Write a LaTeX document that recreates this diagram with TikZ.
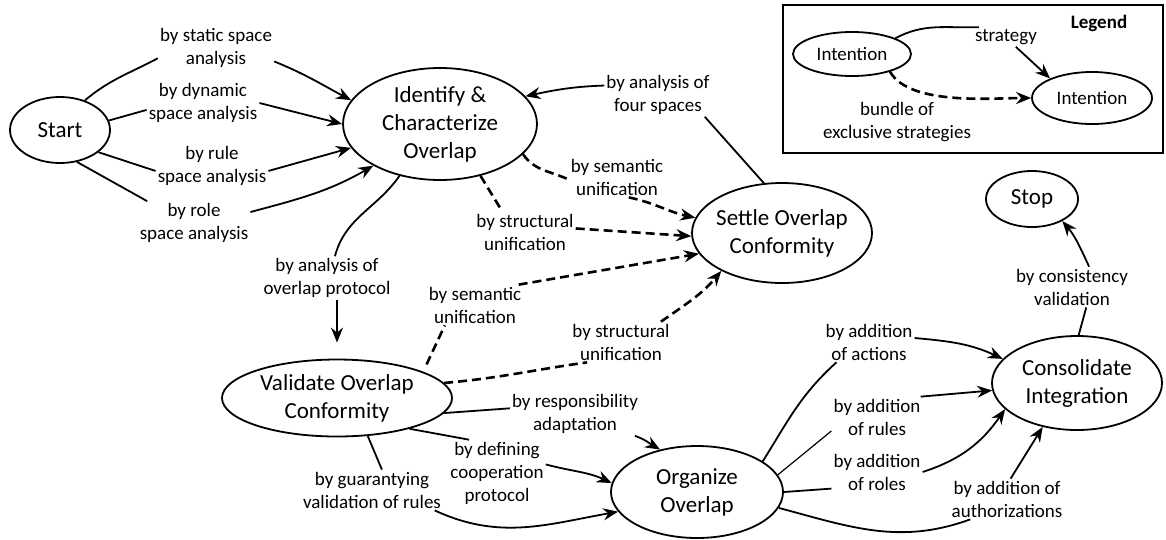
\documentclass[tikz,border=0pt]{standalone}
\usepackage{fontspec}
\setmainfont{Carlito}
\usetikzlibrary{shapes.geometric,arrows.meta}
\begin{document}
\begin{tikzpicture}[x=1pt,y=1pt,
  state/.style={ellipse,draw,line width=1.8pt,inner sep=0pt,align=center,font=\fontsize{23}{28}\selectfont},
  lstate/.style={ellipse,draw,line width=1.8pt,inner sep=0pt,align=center,font=\fontsize{19}{23}\selectfont},
  lbl/.style={align=center,inner sep=2pt,font=\fontsize{19}{23}\selectfont},
  conn/.style={line width=1.8pt},
  arr/.style={line width=1.8pt,-{Stealth[length=15pt,width=12pt,inset=5pt]}},
  dsh/.style={line width=2.6pt,dash pattern=on 9pt off 5pt},
  darr/.style={dsh,-{Stealth[length=15pt,width=12pt,inset=5pt]}}]
\useasboundingbox (0,0) rectangle (1166,-539);

% states
\node[state,minimum width=100pt,minimum height=66pt] (start) at (60,-130) {Start};
\node[state,minimum width=194pt,minimum height=112pt] (ic) at (440,-124) {Identify \&\\Characterize\\Overlap};
\node[state,inner xsep=-4pt,minimum width=180pt,minimum height=100pt] (soc) at (782,-233) {Settle Overlap\\Conformity};
\node[state,minimum width=230pt,minimum height=77pt] (voc) at (337,-398) {Validate Overlap\\Conformity};
\node[state,minimum width=172pt,minimum height=92pt] (oo) at (697,-492) {Organize\\Overlap};
\node[state,minimum width=170pt,minimum height=94pt] (ci) at (1077,-383) {Consolidate\\Integration};
\node[state,minimum width=92pt,minimum height=56pt] (stop) at (1032,-199) {Stop};

% legend
\node[draw,line width=2pt,minimum width=380pt,minimum height=148pt,inner sep=0pt] (legendbox) at (973,-79) {};
\node[font=\bfseries\fontsize{19}{23}\selectfont] (legendtitle) at (1099,-23) {Legend};
\node[lstate,minimum width=118pt,minimum height=44pt] (i1) at (852,-54) {Intention};
\node[lstate,minimum width=120pt,minimum height=52pt] (i2) at (1092,-98) {Intention};
\node[lbl] (ls) at (1006,-37) {strategy};
\node[lbl] (lb) at (897,-122) {bundle of\\exclusive strategies};

% labels
\node[lbl] (l1) at (216,-48) {by static space\\analysis};
\node[lbl] (l2) at (203,-103) {by dynamic\\space analysis};
\node[lbl] (l3) at (212,-166) {by rule\\space analysis};
\node[lbl] (l4) at (194,-223) {by role\\space analysis};
\node[lbl] (l5) at (658,-95) {by analysis of\\four spaces};
\node[lbl] (l6) at (617,-177) {by semantic\\unification};
\node[lbl] (l7) at (525,-232) {by structural\\unification};
\node[lbl] (l8) at (327,-278) {by analysis of\\overlap protocol};
\node[lbl] (l9) at (475,-305) {by semantic\\unification};
\node[lbl] (l10) at (621,-342) {by structural\\unification};
\node[lbl] (l11) at (575,-414) {by responsibility\\adaptation};
\node[lbl] (l12) at (497,-473) {by defining\\cooperation\\protocol};
\node[lbl] (l13) at (372,-490) {by guarantying\\validation of rules};
\node[lbl] (l14) at (869,-342) {by addition\\of actions};
\node[lbl] (l15) at (877,-417) {by addition\\of rules};
\node[lbl] (l16) at (877,-472) {by addition\\of roles};
\node[lbl] (l17) at (1007,-499) {by addition of\\authorizations};
\node[lbl] (l18) at (1072,-287) {by consistency\\validation};

% Start -> Identify
\draw[conn] (start.50) to[out=40,in=208] (l1.190);
\draw[arr] (l1.-13) to[out=-22,in=152] (ic.165);
\draw[conn] (start.11) -- (l2.187);
\draw[arr] (l2.0) -- (ic.180);
\draw[conn] (start.-30) -- (l3.185);
\draw[arr] (l3.-5) -- (ic.195);
\draw[conn] (start.-62) -- (l4.155);
\draw[arr] (l4.11) to[out=15,in=210] (ic.212);

% Settle -> Identify
\draw[conn] (soc.110) -- (l5.-25);
\draw[arr] (l5.170) to[out=182,in=12] (ic.18);

% Identify -> Settle
\draw[dsh] (ic.-20) to[out=-55,in=155] (l6.183);
\draw[darr] (l6.-60) to[out=-12,in=168] (soc.170);
\draw[dsh] (ic.-52) -- (l7.138);
\draw[darr] (l7.4) -- (soc.182);

% Identify -> Validate
\draw[conn] (ic.232) to[out=235,in=75] (l8.70);
\draw[arr,shorten >=16pt] (voc.north |- l8.south) -- (voc.north);

% Validate -> Settle
\draw[dsh,shorten <=8pt] (voc.17) -- (l9.214);
\draw[darr] (l9.25) -- (soc.194);
\draw[dsh] (voc.8) to[out=5,in=188] (l10.211);
\draw[darr] (l10.27) to[out=35,in=230] (soc.212);

% Validate -> Organize
\draw[conn] (voc.-8) -- (l11.175);
\draw[arr] (l11.-20) to[out=-20,in=150] (oo.131);
\draw[conn] (voc.-23) -- (l12.130);
\draw[arr] (l12.10) to[out=-15,in=155] (oo.174);
\draw[conn] (voc.-51) -- (l13.64);
\draw[arr] (l13.-18) to[out=-25,in=190] (oo.194);

% Organize -> Consolidate
\draw[conn] (oo.25) to[out=58,in=222] (l14.212);
\draw[arr] (l14.5) to[out=-5,in=155] (ci.162);
\draw[line width=1.2pt] (oo.12) -- (l15.197);
\draw[arr] (l15.25) -- (ci.185);
\draw[conn] (oo.0) -- (l16.200);
\draw[arr] (l16.0) to[out=18,in=235] (ci.200);
\draw[conn] (oo.-11) to[out=-15,in=200] (l17.209);
\draw[arr] (l17.80) -- (ci.232);

% Consolidate -> Stop
\draw[conn] (ci.88) -- (l18.-55);
\draw[arr] (l18.50) to[out=115,in=-50] (stop.-36);

% legend connectors
\draw[conn] (i1.20) to[out=28,in=182] (ls.160);
\draw[arr] (ls.-45) -- (i2.155);
\draw[darr] (i1.-25) to[out=-60,in=180,looseness=0.7] (i2.180);
\end{tikzpicture}
\end{document}
